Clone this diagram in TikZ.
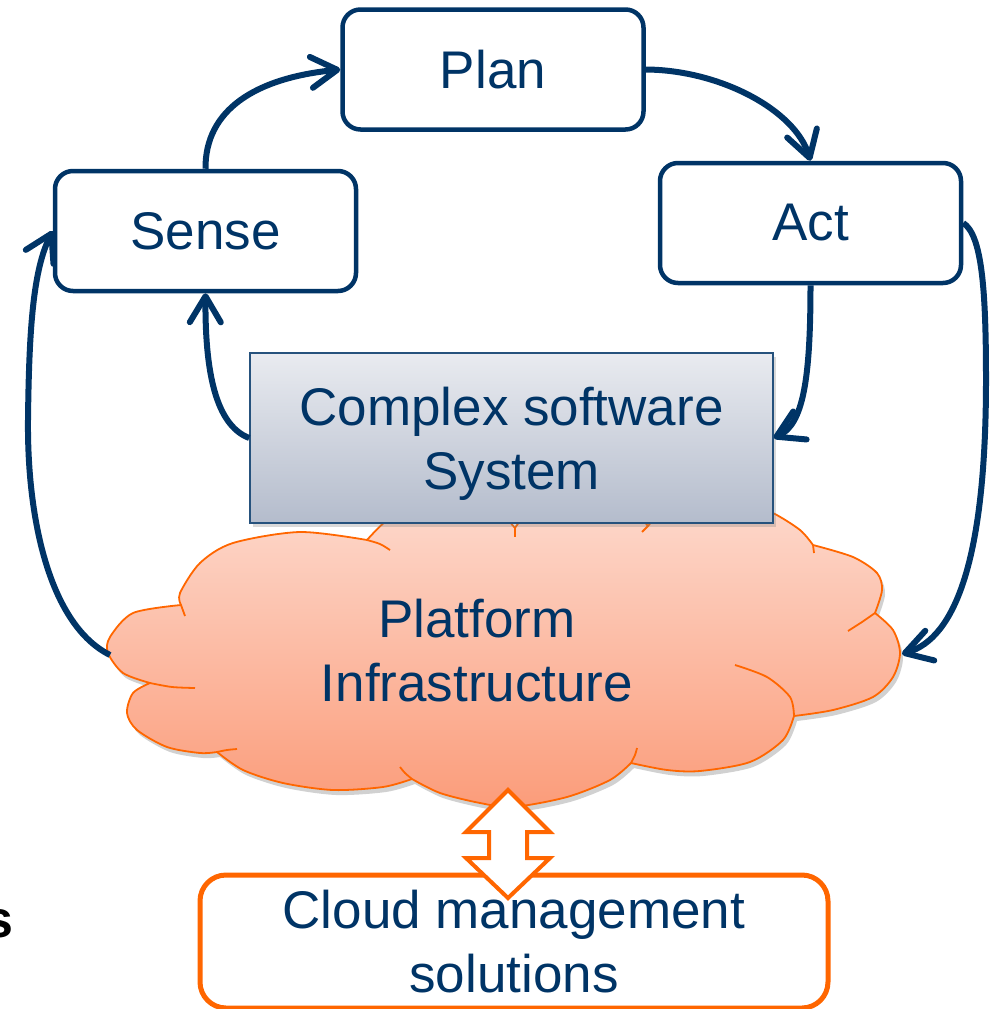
\documentclass[tikz,border=0pt]{standalone}
\usepackage{fontspec}
\setmainfont{Liberation Sans}
\usetikzlibrary{arrows.meta,shadows}

\definecolor{navy}{RGB}{0,52,102}
\definecolor{flame}{RGB}{255,102,0}
\definecolor{sysTop}{RGB}{233,235,240}
\definecolor{sysBot}{RGB}{180,188,204}
\definecolor{cloudTop}{RGB}{253,218,206}
\definecolor{cloudBot}{RGB}{251,156,122}

% outer contour of the cloud, one smooth arc per puff
\newcommand{\cloudoutline}{%
  plot[smooth] coordinates {(181,605) (180,593) (200,563) (233,543) (300,532) (367,540)}
  -- plot[smooth] coordinates {(367,540) (385,522) (410,508) (440,500) (475,503) (500,513) (515,528)}
  -- plot[smooth] coordinates {(515,528) (530,510) (560,498) (595,495) (625,503) (648,526)}
  -- plot[smooth] coordinates {(648,526) (665,510) (700,498) (740,500) (773,513) (800,530) (813,545)}
  -- plot[smooth] coordinates {(813,545) (853,557) (877,573) (882,590) (875,613)}
  -- plot[smooth] coordinates {(875,613) (893,630) (900,653) (893,677) (873,697) (833,710) (794,716)}
  -- plot[smooth] coordinates {(794,716) (783,740) (750,762) (700,771) (667,770) (631,763)}
  -- plot[smooth] coordinates {(631,763) (610,780) (567,797) (513,807) (480,803) (440,793) (412,779)}
  -- plot[smooth] coordinates {(412,779) (383,787) (333,790) (283,783) (243,770) (217,752)}
  -- plot[smooth] coordinates {(217,752) (200,753) (167,747) (137,730) (127,713) (133,693) (150,683)}
  -- plot[smooth] coordinates {(150,683) (123,673) (108,653) (110,637) (133,613) (181,605)}
  -- cycle}

\begin{document}
\begin{tikzpicture}[x=1pt,y=-1pt,
  every node/.style={font=\fontsize{53}{64}\selectfont, text=navy, inner sep=0pt},
  stage/.style={draw=navy, line width=4.5pt, rounded corners=18pt, fill=white,
    minimum width=301pt, minimum height=120pt},
  sysbox/.style={draw=navy!85, line width=1.5pt, top color=sysTop, bottom color=sysBot,
    minimum width=523pt, minimum height=170pt, align=center, text depth=0pt,
    drop shadow={opacity=0.3, shadow xshift=3pt, shadow yshift=-4pt}},
  mgmtbox/.style={draw=flame, line width=5pt, rounded corners=26pt, fill=white,
    minimum width=628pt, minimum height=133pt, align=center},
  puffline/.style={draw=flame, line width=1.8pt},
  flow/.style={draw=navy, line width=6pt,
    -{Straight Barb[length=26pt,width=31pt,round]}},
  linkarrow/.style={draw=flame, line width=4pt, fill=white, line join=miter}
]
\useasboundingbox (0,0) rectangle (990,1009);

% cloud: shadow, gradient body, outline and inner puff strokes
\fill[black, opacity=0.18, xshift=3pt, yshift=-5pt] \cloudoutline;
\path[top color=cloudTop, bottom color=cloudBot] \cloudoutline;
\draw[puffline, line join=round] \cloudoutline;
\draw[puffline] (181,605) -- (185,616);
\draw[puffline] plot[smooth] coordinates {(367,540) (380,544) (390,550)};
\draw[puffline] plot[smooth] coordinates {(150,683) (172,687) (195,688)};
\draw[puffline] plot[smooth] coordinates {(217,752) (227,750) (237,749)};
\draw[puffline] plot[smooth] coordinates {(412,779) (405,773) (400,767)};
\draw[puffline] plot[smooth] coordinates {(631,763) (635,755) (637,748)};
\draw[puffline] plot[smooth] coordinates {(794,716) (790,697) (767,677) (735,665)};
\draw[puffline] plot[smooth] coordinates {(875,613) (862,622) (848,631)};
\draw[puffline] (813,545) -- (814,553);
\draw[puffline] (515,528) -- (515,537);
\draw[puffline] (648,526) -- (642,532);

\node[align=center] (platform) at (477,650.5) {Platform\\Infrastructure};
\coordinate (cloudW) at (110,655);
\coordinate (cloudE) at (902,654);

% managed system sitting on the platform
\node[sysbox] (system) at (511.5,438) {Complex software\\System};

% the control loop stages
\node[stage] (plan)  at (493,69.5) {Plan};
\node[stage] (sense) at (205.5,231) {Sense};
\node[stage] (act)   at (810.5,223) {Act};

% management layer below the cloud
\node[mgmtbox] (mgmt) at (514,941.5) {Cloud management\\solutions};

% two-way link between platform and management
\draw[linkarrow] (508,790) -- (550,832) -- (527,832) -- (527,858) -- (550,858)
  -- (508,898) -- (466,858) -- (489,858) -- (489,832) -- (466,832) -- cycle;

% loop connectors
\draw[flow] (sense.north) .. controls (205,110) and (255,78) .. (plan.west);
\draw[flow] (plan.east) .. controls (720,70) and (795,110) .. (act.north);
\draw[flow] (act.south) .. controls (810.5,380) and (803,424) .. (system.east);
\draw[flow] (system.west) .. controls (215,425) and (205,370) .. (sense.south);
\draw[flow] (cloudW) .. controls (50,625) and (27,520) .. (28,420)
  .. controls (29,330) and (33,270) .. (sense.west);
\draw[flow] (act.east) .. controls (982,235) and (986,290) .. (986,380)
  .. controls (986,560) and (955,638) .. (cloudE);

\node[font=\bfseries\fontsize{52}{60}\selectfont, text=black, anchor=base east] (cut) at (14,937) {s};
\end{tikzpicture}
\end{document}
